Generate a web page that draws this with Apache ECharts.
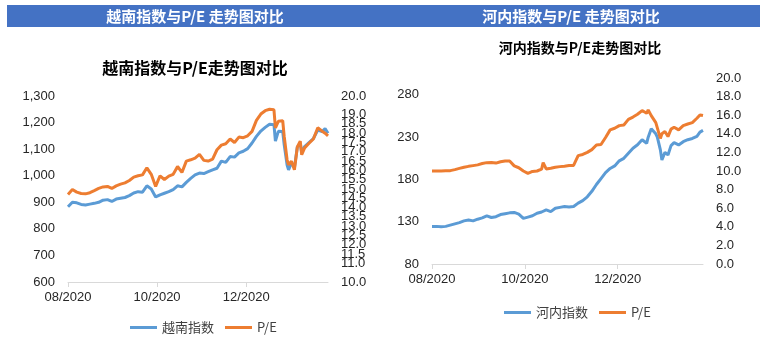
<!DOCTYPE html>
<html>
<head>
<meta charset="utf-8">
<script src="https://cdn.jsdelivr.net/npm/echarts@6/dist/echarts.min.js"></script>
<style>
  html, body { margin: 0; padding: 0; background: #fff; }
  #chart { width: 763px; height: 343px; }
</style>
</head>
<body>
<div id="chart"></div>
<script>
// Observation dates shared by both panels
const dates = [
  '2020-08-24','2020-08-27','2020-08-30','2020-09-02','2020-09-05','2020-09-08','2020-09-11','2020-09-14',
  '2020-09-17','2020-09-20','2020-09-23','2020-09-26','2020-09-29','2020-10-02','2020-10-05','2020-10-08',
  '2020-10-11','2020-10-14','2020-10-17','2020-10-20','2020-10-23','2020-10-26','2020-10-29','2020-11-01',
  '2020-11-04','2020-11-05','2020-11-07','2020-11-10','2020-11-13','2020-11-16','2020-11-19','2020-11-22',
  '2020-11-25','2020-11-28','2020-12-01','2020-12-04','2020-12-07','2020-12-10','2020-12-13','2020-12-16',
  '2020-12-19','2020-12-22','2020-12-25','2020-12-28','2020-12-31','2021-01-03','2021-01-06','2021-01-09',
  '2021-01-12','2021-01-13','2021-01-15','2021-01-18','2021-01-19','2021-01-21','2021-01-22','2021-01-24',
  '2021-01-26','2021-01-28','2021-01-30','2021-01-31','2021-02-02','2021-02-05','2021-02-08','2021-02-11',
  '2021-02-14','2021-02-16','2021-02-18'
];

// 越南指数 (VN-Index)
const vnIndex = [
  883, 900, 898, 892, 890, 893, 896, 900,
  908, 910, 903, 912, 915, 918, 925, 935,
  940, 938, 962, 950, 920, 928, 934, 940,
  948, 950, 962, 958, 975, 990, 1003, 1010,
  1008, 1015, 1022, 1028, 1055, 1050, 1072, 1070,
  1086, 1092, 1102, 1123, 1148, 1168, 1182, 1194,
  1192, 1130, 1167, 1166, 1117, 1040, 1022, 1048,
  1030, 1108, 1123, 1086, 1110, 1125, 1140, 1172,
  1166, 1177, 1160
];

// 越南市场 P/E
const vnPE = [
  14.71, 14.97, 14.83, 14.76, 14.74, 14.80, 14.91, 15.03,
  15.11, 15.14, 15.03, 15.17, 15.26, 15.33, 15.46, 15.64,
  15.71, 15.76, 16.14, 15.79, 15.14, 15.71, 15.51, 15.69,
  15.79, 15.93, 16.21, 15.89, 16.50, 16.57, 16.66, 16.86,
  16.54, 16.50, 16.60, 17.11, 17.36, 17.43, 17.69, 17.50,
  17.79, 17.76, 17.86, 18.10, 18.69, 19.03, 19.21, 19.29,
  19.26, 18.29, 18.64, 18.67, 17.84, 16.57, 16.30, 16.49,
  16.03, 17.26, 17.57, 16.84, 17.21, 17.46, 17.69, 18.29,
  18.11, 18.00, 17.86
];

// 河内指数 (HNX-Index)
const hnxIndex = [
  124.5, 124.5, 124, 124.5, 126, 127.5, 129, 131,
  132, 131, 133, 134.5, 137, 135, 136, 138.5,
  139.5, 140.5, 141, 139, 134, 135.5, 137, 140,
  141.5, 143, 144, 142, 146, 147, 148, 147.5,
  148, 152, 155, 159.5, 166, 174, 181, 188,
  193, 196, 202, 205, 211, 217, 221, 227,
  222.8, 230, 240, 234, 230, 215, 203, 212,
  209, 220, 223.5, 224, 220.8, 224.7, 227, 228.5,
  231, 236, 238
];

// 河内市场 P/E
const hnxPE = [
  10.0, 10.0, 10.0, 10.02, 10.04, 10.15, 10.28, 10.4,
  10.5, 10.58, 10.66, 10.8, 10.9, 10.92, 10.85, 11.0,
  11.08, 11.08, 10.55, 10.35, 10.0, 9.75, 9.95, 10.0,
  10.2, 10.9, 10.22, 10.3, 10.4, 10.47, 10.52, 10.58,
  10.6, 11.65, 11.78, 12.0, 12.3, 12.8, 12.85, 13.6,
  14.42, 14.6, 14.88, 14.95, 15.55, 15.8, 16.1, 16.5,
  16.2, 16.57, 15.95, 15.2, 15.0, 13.5, 14.0, 14.24,
  13.7, 14.5, 14.7, 14.65, 14.42, 14.88, 15.05, 15.2,
  15.67, 16.03, 15.96
];

// Month labels on the date axis, one every two months from the first date
const monthLabels = ['08/2020', '10/2020', '12/2020'];
const hnxIndexTicks = [80, 130, 180, 230, 280];

const BLUE = '#5B9BD5';
const ORANGE = '#ED7D31';
const LABEL = '#262626';
const FONT = 'Liberation Sans, Arial, sans-serif';
const CJK = 'Noto Sans CJK SC, sans-serif';

const DAY = 864e5;
const t0 = Date.parse(dates[0]);
const dayOf = d => Math.round((Date.parse(d) - t0) / DAY);
const days = dates.map(dayOf);
const lastDay = days[days.length - 1];
const STEP = 61; // two months in days
const monthTickDays = monthLabels.map((_, i) => i * STEP);

const pairs = vals => days.map((d, i) => [d, vals[i]]);

function dateAxis(gridIndex) {
  return {
    type: 'value', gridIndex, min: 0, max: lastDay,
    axisLine: { show: true, lineStyle: { color: '#d9d9d9', width: 1 } },
    axisTick: { show: true, customValues: monthTickDays, length: 5, lineStyle: { color: '#d9d9d9' } },
    axisLabel: {
      customValues: monthTickDays, margin: 9,
      color: LABEL, fontFamily: FONT, fontSize: 13,
      formatter: v => monthLabels[Math.round(v / STEP)] || ''
    },
    splitLine: { show: false }
  };
}

function valueAxis(gridIndex, opts) {
  return Object.assign({
    type: 'value', gridIndex,
    axisLine: { show: false }, axisTick: { show: false }, splitLine: { show: false }
  }, opts);
}

const labelStyle = extra => Object.assign({
  margin: 13, color: LABEL, fontFamily: FONT, fontSize: 13,
  showMinLabel: true, showMaxLabel: true, hideOverlap: false
}, extra);

const lineSeries = (name, x, y, vals, color, z) => ({
  name, type: 'line', xAxisIndex: x, yAxisIndex: y, data: pairs(vals),
  showSymbol: false, symbol: 'none', z,
  lineStyle: { color, width: 3 }, itemStyle: { color }
});

const chart = echarts.init(document.getElementById('chart'), null, { renderer: 'canvas' });

chart.setOption({
  animation: false,
  backgroundColor: '#fff',
  grid: [
    { left: 68, right: 435, top: 96, bottom: 61 },
    { left: 432, right: 60, top: 78, bottom: 79 }
  ],
  xAxis: [dateAxis(0), dateAxis(1)],
  yAxis: [
    valueAxis(0, {
      min: 600, max: 1300, interval: 100,
      axisLabel: labelStyle({ formatter: v => v.toLocaleString('en-US') })
    }),
    valueAxis(0, {
      position: 'right', min: 10, max: 20, interval: 0.5,
      axisLabel: labelStyle({ formatter: v => v.toFixed(1) })
    }),
    valueAxis(1, {
      min: 80, max: 300,
      axisLabel: labelStyle({ customValues: hnxIndexTicks })
    }),
    valueAxis(1, {
      position: 'right', min: 0, max: 20, interval: 2,
      axisLabel: labelStyle({ formatter: v => v.toFixed(1) })
    })
  ],
  legend: [
    {
      data: ['越南指数', 'P/E'], left: 125, top: 316,
      icon: 'rect', itemWidth: 27, itemHeight: 3, itemGap: 11,
      textStyle: { color: '#404040', fontFamily: CJK, fontSize: 13 }
    },
    {
      data: ['河内指数', 'P/E'], left: 499, top: 301,
      icon: 'rect', itemWidth: 27, itemHeight: 3, itemGap: 11,
      textStyle: { color: '#404040', fontFamily: CJK, fontSize: 13 }
    }
  ],
  series: [
    lineSeries('越南指数', 0, 0, vnIndex, BLUE, 2),
    lineSeries('P/E', 0, 1, vnPE, ORANGE, 3),
    lineSeries('河内指数', 1, 2, hnxIndex, BLUE, 2),
    lineSeries('P/E', 1, 3, hnxPE, ORANGE, 3)
  ],
  graphic: [
    { type: 'rect', shape: { x: 7, y: 5, width: 753, height: 22 }, style: { fill: '#4472C4' }, silent: true },
    { type: 'text', x: 195, y: 16, style: {
      text: '越南指数与P/E 走势图对比', align: 'center', verticalAlign: 'middle',
      textAlign: 'center', textVerticalAlign: 'middle',
      fontFamily: CJK, fontSize: 15, fontWeight: 'bold', fill: '#fff' } },
    { type: 'text', x: 571, y: 16, style: {
      text: '河内指数与P/E 走势图对比', align: 'center', verticalAlign: 'middle',
      textAlign: 'center', textVerticalAlign: 'middle',
      fontFamily: CJK, fontSize: 15, fontWeight: 'bold', fill: '#fff' } },
    { type: 'text', x: 195, y: 68, style: {
      text: '越南指数与P/E走势图对比', align: 'center', verticalAlign: 'middle',
      textAlign: 'center', textVerticalAlign: 'middle',
      fontFamily: CJK, fontSize: 16, fontWeight: 'bold', fill: '#000' } },
    { type: 'text', x: 580, y: 48, style: {
      text: '河内指数与P/E走势图对比', align: 'center', verticalAlign: 'middle',
      textAlign: 'center', textVerticalAlign: 'middle',
      fontFamily: CJK, fontSize: 14, fontWeight: 'bold', fill: '#000' } }
  ]
});
</script>
</body>
</html>
